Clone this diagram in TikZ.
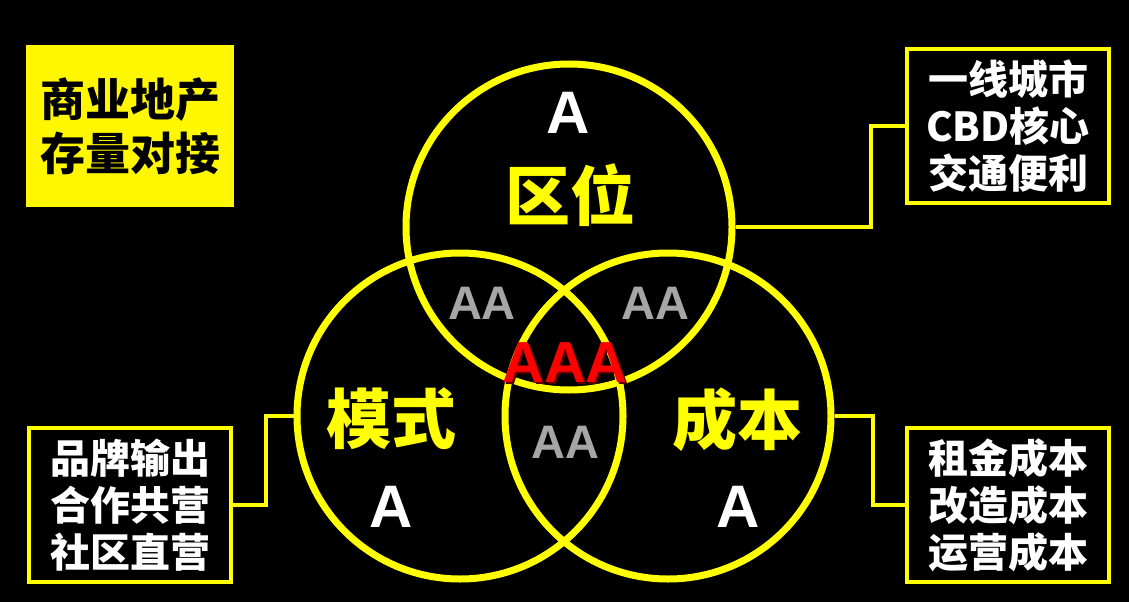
\documentclass[tikz,border=0pt]{standalone}
\usepackage{fontspec}
\setmainfont{Liberation Sans}
\newfontfamily\cjk{Noto Sans CJK SC}
\definecolor{vy}{HTML}{FFFF00}
\definecolor{boxy}{HTML}{FFF700}
\definecolor{aagray}{HTML}{A6A6A6}
\definecolor{aaared}{HTML}{FF0000}
\definecolor{shadowred}{HTML}{5A0000}
\tikzset{
  ring/.style={circle, draw=vy, line width=7pt, minimum size=326pt, inner sep=0pt},
  conn/.style={draw=vy, line width=4pt},
  infobox/.style={rectangle, draw=vy, line width=4.5pt, fill=black, minimum width=202pt, minimum height=154pt, inner sep=0pt,
    text=white, align=center, font={\cjk\bfseries\fontsize{40}{47}\selectfont}},
  titlebox/.style={rectangle, fill=boxy, minimum width=208pt, minimum height=162pt, inner sep=0pt,
    text=black, align=center, font={\cjk\bfseries\fontsize{45}{54}\selectfont}},
  bigA/.style={inner sep=0pt, text=white, font={\bfseries\fontsize{60}{62}\selectfont}},
  grayAA/.style={inner sep=0pt, text=aagray, font={\bfseries\fontsize{47}{49}\selectfont}},
  topic/.style={inner sep=0pt, text=vy, font={\cjk\bfseries\fontsize{65}{67}\selectfont}},
  redAAA/.style={inner sep=0pt, font={\bfseries\fontsize{58}{60}\selectfont}},
}
\begin{document}
\begin{tikzpicture}[x=1pt,y=-1pt]
\fill[black] (0,0) rectangle (1129,602);
\useasboundingbox (0,0) rectangle (1129,602);

% circles
\node[ring] (top) at (569,227) {};
\node[ring] (left) at (460,416) {};
\node[ring] (right) at (668,416) {};

% boxes
\node[titlebox] (tl) at (130,126) {商业地产\\存量对接};
\node[infobox] (tr) at (1008,126) {一线城市\\CBD核心\\交通便利};
\node[infobox] (bl) at (130,505) {品牌输出\\合作共营\\社区直营};
\node[infobox] (br) at (1008,505) {租金成本\\改造成本\\运营成本};

% connectors
\draw[conn] (top.east) -- ++(135,0) |- (tr.west);
\draw[conn] (bl.east) -- ++(33,0) |- (left.west);
\draw[conn] (right.east) -- ++(38,0) |- (br.west);

% labels
\node[bigA] (atop) at (568,113) {A};
\node[topic] (qw) at (570,195) {区位};
\node[topic] (ms) at (391,419) {模式};
\node[bigA] (aleft) at (391,507) {A};
\node[topic] (cb) at (737,420) {成本};
\node[bigA] (aright) at (738,507) {A};

\node[grayAA] (aa1) at (482,303) {AA};
\node[grayAA] (aa2) at (655,303) {AA};
\node[grayAA] (aa3) at (565,442) {AA};

\node[redAAA, text=shadowred] (aaash) at (567,365) {AAA};
\node[redAAA, text=aaared] (aaa) at (565,363) {AAA};
\end{tikzpicture}
\end{document}
